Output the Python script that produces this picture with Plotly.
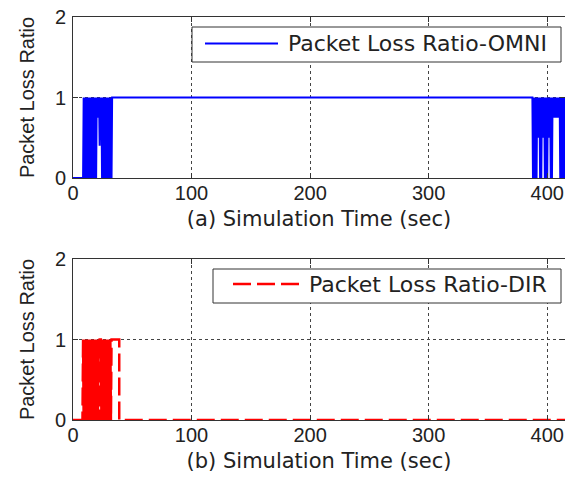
import plotly.graph_objects as go

# ---------------- data ----------------
SAMPLE_DT = 0.5  # sampling period of the simulation trace (sec)

# OMNI: leading part, burst 1 (from 9.0 s), steady part, burst 2 (from 388.0 s)
omni_lead_t = [0.0, 8.5]
omni_lead_v = [0, 0]
omni_burst1_start = 9.0
omni_burst1_v = [1, 0, 1, 0, 1, 0, 1, 0, 1, 0, 1, 0, 1, 0, 1, 0, 1, 0, 1, 0, 1, 0, 1,
                 0.75, 1, 0.75, 1, 0.4, 1, 0.75, 1,
                 0, 1, 0, 1, 0, 1, 0, 1, 0, 1, 0, 1, 0, 1, 0, 1, 0]
omni_steady_t = [33.0, 387.5]
omni_steady_v = [1, 1]
omni_burst2_start = 388.0
omni_burst2_v = [0, 1, 0, 1, 0, 1, 0, 1, 0.5, 1, 0.5, 1, 0, 1, 0, 1, 0.5, 1, 0.5, 1,
                 0, 1, 0, 1, 0, 1, 0.5, 1, 0.5, 1, 0, 1, 0, 1,
                 0.75, 1, 0.75, 1, 0.75, 1, 0.75, 1, 0.75, 1, 0.75, 1,
                 0, 1, 0, 1, 0, 1, 0, 1, 0, 1]

# DIR: leading part, burst (from 8.5 s), hold at 1, then zero
dir_lead_t = [0.0, 8.0]
dir_lead_v = [0, 0]
dir_burst_start = 8.5
dir_burst_v = [1, 0, 1, 0, 1, 0, 1, 0, 1, 0, 1, 0, 1, 0, 1, 0, 1, 0, 1, 0, 1, 0, 1, 0,
               1, 0, 1, 0, 1, 1, 1, 0, 1, 0, 1, 0, 1, 0, 1, 0, 1, 0, 1, 0, 1, 0, 1, 0, 1]
dir_tail_t = [39.0, 39.0, 415.0]
dir_tail_v = [1, 0, 0]

series_names = ["Packet Loss Ratio-OMNI", "Packet Loss Ratio-DIR"]
series_colors = ["#0000FF", "#FF0000"]
x_titles = ["(a) Simulation Time (sec)", "(b) Simulation Time (sec)"]
y_title = "Packet Loss Ratio"
x_ticks = [0, 100, 200, 300, 400]
y_ticks = [0, 1, 2]


def expand(start, vals):
    return [start + i * SAMPLE_DT for i in range(len(vals))]


omni_t = omni_lead_t + expand(omni_burst1_start, omni_burst1_v) + omni_steady_t + expand(omni_burst2_start, omni_burst2_v)
omni_v = omni_lead_v + omni_burst1_v + omni_steady_v + omni_burst2_v
dir_t = dir_lead_t + expand(dir_burst_start, dir_burst_v) + dir_tail_t
dir_v = dir_lead_v + dir_burst_v + dir_tail_v

DIR_DASH = "18px,6px"

# ---------------- figure ----------------
fig = go.Figure()
fig.add_trace(go.Scatter(x=omni_t, y=omni_v, mode="lines", name=series_names[0],
                         line=dict(color=series_colors[0], width=2),
                         xaxis="x", yaxis="y", showlegend=False))
fig.add_trace(go.Scatter(x=dir_t, y=dir_v, mode="lines", name=series_names[1],
                         line=dict(color=series_colors[1], width=2.5, dash=DIR_DASH),
                         xaxis="x2", yaxis="y2", showlegend=False))

tick_font = dict(family="Liberation Sans, Arial", size=20, color="#222")
xtitle_font = dict(family="DejaVu Sans", size=21, color="#222")
ytitle_font = dict(family="Liberation Sans, Arial", size=20, color="#222")
legend_font = dict(family="DejaVu Sans", size=22, color="#222")

common_x = dict(range=[0, 415], tickvals=x_ticks, ticks="inside", ticklen=5, tickcolor="#333",
                showline=True, linecolor="#333", linewidth=1, mirror="ticks",
                showgrid=True, gridcolor="#444", griddash="dot", gridwidth=1,
                zeroline=False, tickfont=tick_font, ticklabelstandoff=-3, automargin=False)
common_y = dict(range=[0, 2], tickvals=y_ticks, ticks="inside", ticklen=5, tickcolor="#333",
                showline=True, linecolor="#333", linewidth=1, mirror="ticks",
                showgrid=True, gridcolor="#444", griddash="dot", gridwidth=1,
                zeroline=False, tickfont=tick_font, ticklabelstandoff=2, automargin=False)

W, H, L = 565.0, 477.0, 73.0


def px_x(p):  # pixel column -> paper x
    return (p - L) / (W - L)


def px_y(p):  # pixel row -> paper y
    return 1 - p / H


fig.update_layout(
    template="none",
    width=565, height=477,
    margin=dict(l=73, r=0, t=0, b=0, pad=0),
    paper_bgcolor="white", plot_bgcolor="white",
    showlegend=False,
    xaxis=dict(common_x, domain=[0, 1], anchor="y",
               title=dict(text=x_titles[0], font=xtitle_font, standoff=8)),
    yaxis=dict(common_y, domain=[px_y(178), px_y(17)], anchor="x",
               title=dict(text=y_title, font=ytitle_font, standoff=14)),
    xaxis2=dict(common_x, domain=[0, 1], anchor="y2",
                title=dict(text=x_titles[1], font=xtitle_font, standoff=8)),
    yaxis2=dict(common_y, domain=[px_y(420), px_y(259)], anchor="x2",
                title=dict(text=y_title, font=ytitle_font, standoff=14)),
)

# legend boxes (MATLAB style: framed, long line sample)
legend_boxes = [
    dict(box=(192, 561, 27, 62), line=(205, 278, 43.5), text_x=287, dash="solid", width=2),
    dict(box=(213, 561, 269, 303), line=(233, 302, 284), text_x=308, dash=DIR_DASH, width=2.5),
]
for i, lb in enumerate(legend_boxes):
    x0, x1, y0, y1 = lb["box"]
    fig.add_shape(type="rect", xref="paper", yref="paper",
                  x0=px_x(x0), x1=px_x(x1), y0=px_y(y1), y1=px_y(y0),
                  fillcolor="white", line=dict(color="#333", width=1), layer="above")
    lx0, lx1, ly = lb["line"]
    fig.add_shape(type="line", xref="paper", yref="paper",
                  x0=px_x(lx0), x1=px_x(lx1), y0=px_y(ly), y1=px_y(ly),
                  line=dict(color=series_colors[i], width=lb["width"], dash=lb["dash"]),
                  layer="above")
    fig.add_annotation(text=series_names[i], xref="paper", yref="paper",
                       x=px_x(lb["text_x"]), y=px_y(ly), xanchor="left", yanchor="middle",
                       showarrow=False, font=legend_font, borderpad=0)

fig.write_html("out.html", post_script="document.body.style.margin='0';")
